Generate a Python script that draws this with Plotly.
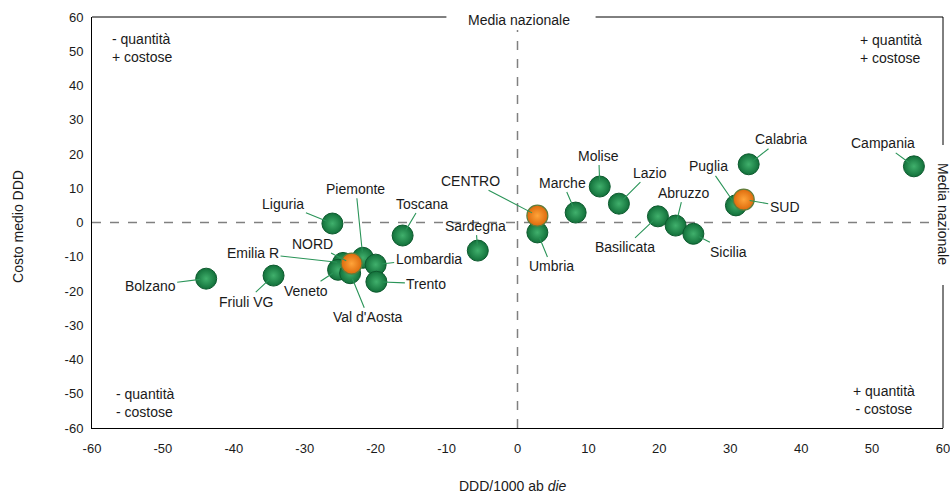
import plotly.graph_objects as go

# ---------------- data ----------------
regions = ["Liguria", "Toscana", "Bolzano", "Friuli VG", "Piemonte", "Emilia R",
           "Lombardia", "Trento", "Veneto", "Val d'Aosta", "Sardegna", "Umbria",
           "Marche", "Molise", "Lazio", "Basilicata", "Abruzzo", "Sicilia",
           "Puglia", "Calabria", "Campania"]
ddd_regions = [-26.1, -16.2, -43.9, -34.4, -21.8, -24.6, -20.0, -19.9, -25.3, -23.6,
               -5.6, 2.8, 8.2, 11.6, 14.3, 19.8, 22.3, 24.8, 30.8, 32.6, 55.9]
cost_regions = [-0.3, -3.8, -16.4, -15.5, -10.3, -11.8, -12.3, -17.3, -13.8, -14.8,
                -8.2, -2.9, 2.9, 10.5, 5.5, 1.8, -0.9, -3.3, 5.0, 17.0, 16.4]

areas = ["NORD", "CENTRO", "SUD"]
ddd_areas = [-23.4, 2.8, 31.9]
cost_areas = [-12.0, 2.0, 6.7]

national_mean_x = 0
national_mean_y = 0

x_ticks = list(range(-60, 61, 10))
y_ticks = list(range(-60, 61, 10))

# ---------------- style ----------------
W_WIN, H_WIN = 950, 493
W, H = W_WIN + 8, H_WIN            # rendered figure comes out 8px narrower than requested
PLOT_L, PLOT_R, PLOT_T, PLOT_B = 92, 942, 17, 428   # plot area in window pixels
L, R, T, B = PLOT_L, W_WIN - PLOT_R, PLOT_T, H_WIN - PLOT_B
FONT = "Liberation Sans, Arial, sans-serif"
LEADER = "#2a9458"
TXT = "#1a1a1a"

# label offsets (pixels, text centre relative to point)
label_offsets = {
    "Liguria": (-49, -20), "Toscana": (19, -32), "Bolzano": (-56, 7),
    "Friuli VG": (-28, 26), "Piemonte": (-7, -69), "Emilia R": (-90, -10),
    "Lombardia": (53, -6), "Trento": (50, 2), "Veneto": (-32, 21),
    "Val d'Aosta": (18, 44), "Sardegna": (-2, -25), "Umbria": (14, 34),
    "Marche": (-13, -30), "Molise": (-1, -31), "Lazio": (31, -31),
    "Basilicata": (-33, 31), "Abruzzo": (8, -33), "Sicilia": (35, 18),
    "Puglia": (-27, -39), "Calabria": (32, -25), "Campania": (-31, -23),
    "NORD": (-39, -20), "CENTRO": (-67, -35), "SUD": (41, 7),
}


def px_x(px):
    return (px - PLOT_L) / (PLOT_R - PLOT_L)


def px_y(py):
    return (PLOT_B - py) / (PLOT_B - PLOT_T)


fig = go.Figure()

fig.add_trace(go.Scatter(
    x=ddd_regions, y=cost_regions, mode="markers", name="Regioni",
    marker=dict(size=21, color="#12703a",
                gradient=dict(type="radial", color="#40b06c"),
                line=dict(width=1, color="#0d5a2e")),
    hoverinfo="text", text=regions, showlegend=False))

fig.add_trace(go.Scatter(
    x=ddd_areas, y=cost_areas, mode="markers", name="Aree",
    marker=dict(size=21, color="#dd6a0c",
                gradient=dict(type="radial", color="#ffa43a"),
                line=dict(width=1.2, color="#5e7d3c")),
    hoverinfo="text", text=areas, showlegend=False))

annotations = []
for name, xv, yv in list(zip(regions, ddd_regions, cost_regions)) + list(zip(areas, ddd_areas, cost_areas)):
    ax, ay = label_offsets[name]
    annotations.append(dict(
        x=xv, y=yv, xref="x", yref="y", text=name, showarrow=True,
        ax=ax, ay=ay, arrowhead=0, arrowwidth=1.1, arrowcolor=LEADER,
        standoff=6, font=dict(family=FONT, size=14, color=TXT)))


def note(px, py, text, xanchor="center", align="center", angle=0):
    return dict(x=px_x(px), y=px_y(py), xref="paper", yref="paper",
                xanchor=xanchor, yanchor="middle", text=text, align=align,
                textangle=angle, showarrow=False,
                font=dict(family=FONT, size=14, color=TXT))


annotations += [
    note(110, 48.5, "- quantità<br>+ costose", "left", "left"),
    note(923, 49.5, "+ quantità<br>+ costose", "right", "left"),
    note(114, 403, "- quantità<br>- costose", "left", "left"),
    note(883, 400, "+ quantità<br>- costose", "center", "center"),
    note(518, 20, "Media nazionale"),
    note(942, 214, "Media nazionale", angle=90),
    note(18, 226, "Costo medio DDD", angle=-90),
    note(513, 486, "DDD/1000 ab <i>die</i>"),
]

shapes = [
    dict(type="line", xref="paper", yref="paper", x0=0, x1=px_x(446), y0=1, y1=1,
         line=dict(color="black", width=1)),
    dict(type="line", xref="paper", yref="paper", x0=px_x(595), x1=1, y0=1, y1=1,
         line=dict(color="black", width=1)),
    dict(type="line", xref="paper", yref="paper", x0=1, x1=1, y0=1, y1=px_y(145),
         line=dict(color="black", width=1)),
    dict(type="line", xref="paper", yref="paper", x0=1, x1=1, y0=px_y(285), y1=0,
         line=dict(color="black", width=1)),
    dict(type="line", xref="x", yref="paper", x0=national_mean_x, x1=national_mean_x,
         y0=0, y1=px_y(30), line=dict(color="#808080", width=1.5, dash="dash"), layer="below"),
    dict(type="line", xref="paper", yref="y", x0=0, x1=px_x(932),
         y0=national_mean_y, y1=national_mean_y,
         line=dict(color="#808080", width=1.5, dash="dash"), layer="below"),
]

fig.update_layout(
    width=W, height=H,
    margin=dict(l=L, r=R, t=T, b=B),
    paper_bgcolor="white", plot_bgcolor="white",
    font=dict(family=FONT, size=13, color=TXT),
    xaxis=dict(range=[-60, 60], tickvals=x_ticks, ticktext=[str(v) for v in x_ticks],
               showgrid=False, zeroline=False, showline=True, linecolor="black",
               linewidth=1, ticks="outside", ticklen=0, ticklabelstandoff=8,
               tickfont=dict(family=FONT, size=13, color=TXT)),
    yaxis=dict(range=[-60, 60], tickvals=y_ticks, ticktext=[str(v) for v in y_ticks],
               showgrid=False, zeroline=False, showline=True, linecolor="black",
               linewidth=1, ticks="outside", ticklen=0, ticklabelstandoff=5,
               tickfont=dict(family=FONT, size=13, color=TXT)),
    annotations=annotations,
    shapes=shapes,
    showlegend=False,
)

# remove the page's default body margin so the figure fills the window exactly
fig.write_html("out.html", config={"displayModeBar": False},
               post_script="document.body.style.margin='0';document.body.style.overflow='hidden';")
